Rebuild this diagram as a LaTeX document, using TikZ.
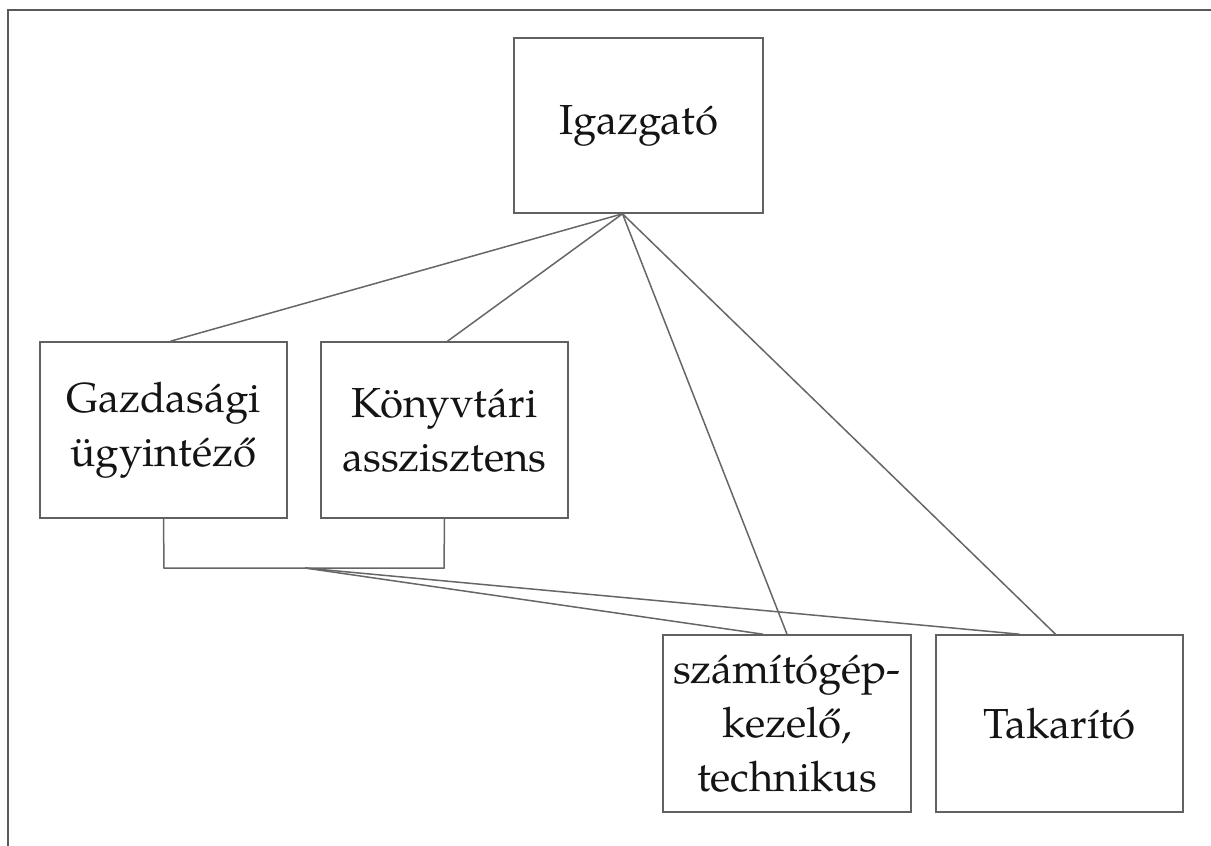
\documentclass[tikz,border=0pt]{standalone}
\usepackage{fontspec}
\setmainfont{TeX Gyre Pagella}
\usetikzlibrary{calc}
\begin{document}
\begin{tikzpicture}[x=1pt,y=-1pt,
  frame/.style={draw=black!65, line width=2.4pt},
  box/.style={draw=black!62, line width=1.6pt, align=center, inner sep=0pt,
    font=\fontsize{42}{54}\selectfont, text=black!92},
  link/.style={draw=black!60, line width=1.5pt}]
\useasboundingbox (0,0) rectangle (1211,846);
\draw[frame] (8,846) -- (8,10) -- (1211,10);
\node[box, minimum width=249pt, minimum height=175pt] (igaz) at (638.5,125.5) {Igazgató};
\node[box, minimum width=247pt, minimum height=176pt] (gazd) at (163.5,430) {Gazdasági\\ügyintéző};
\node[box, minimum width=247pt, minimum height=176pt] (konyv) at (444.5,430) {Könyvtári\\asszisztens};
\node[box, minimum width=248pt, minimum height=177pt] (szam) at (787,723.5) {számítógép-\\kezelő,\\technikus};
\node[box, minimum width=247pt, minimum height=177pt] (tak) at (1059.5,723.5) {Takarító};
\coordinate (top) at ($(igaz.south)+(-16,0)$);
\coordinate (bl) at (164,568);
\coordinate (br) at (444,568);
\coordinate (bm) at (305,568);
\draw[link] (top) -- ($(gazd.north)+(7,0)$);
\draw[link] (top) -- ($(konyv.north)+(3,0)$);
\draw[link] (top) -- (szam.north);
\draw[link] (top) -- ($(tak.north)+(-4,0)$);
\draw[link] (gazd.south) -- (bl) -- (br) -- (konyv.south);
\draw[link] (bm) -- ($(szam.north)+(-24,0)$);
\draw[link] (bm) -- ($(tak.north)+(-40,0)$);
\end{tikzpicture}
\end{document}
